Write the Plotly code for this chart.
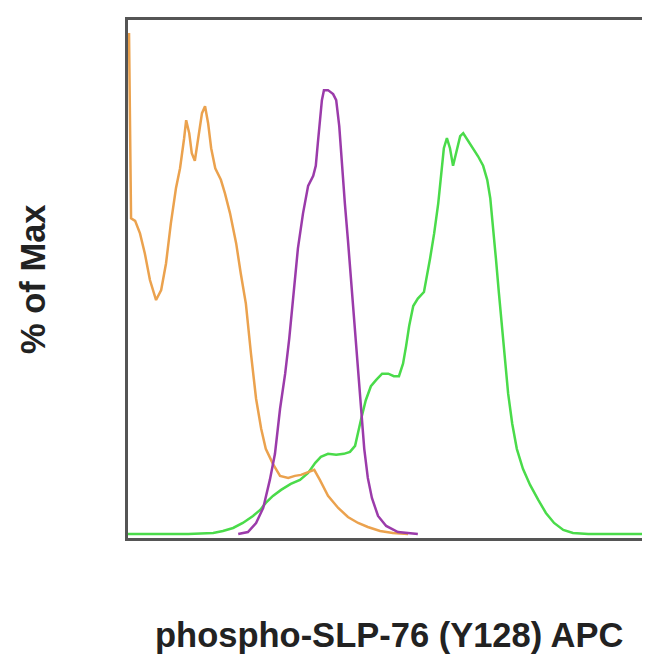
import plotly.graph_objects as go

# Fluorescence channel (0-1023) vs % of Max
orange_x = [2, 4, 6, 14, 23.5, 33, 43, 55, 65, 74.5, 84, 94, 102, 110, 114, 120, 125, 131, 137, 145, 151,
            157, 163, 171, 182, 190, 200, 212, 221, 231, 241, 251, 261, 270, 284, 298, 314, 327, 339, 353,
            365, 376, 392, 412, 431, 451, 470, 494, 519, 549]
orange_y = [100, 81, 63, 62.5, 60, 56, 50.7, 46.7, 48.7, 54, 62, 69, 73, 79, 82.6, 80, 76, 74.5, 79, 84, 85.4,
            82, 77, 73, 70.7, 68, 64, 58, 52, 46, 36, 27, 21, 17, 14, 11.6, 11.2, 11.6, 11.8, 12.4,
            12.8, 10.8, 7.6, 5.2, 3.4, 2.2, 1.4, 0.6, 0.2, 0]

purple_x = [216, 235, 251, 265, 278, 288, 298, 308, 316, 323, 333, 343, 353, 363, 368, 372, 376, 380, 384,
            392, 402, 408, 414, 419, 425, 431, 437, 443, 451, 457, 463, 470, 478, 490, 506, 529, 568]
purple_y = [0, 0.4, 2.2, 5.2, 10.8, 16, 25, 32, 39, 46.5, 57, 64, 69.5, 71.5, 73.5, 78, 82, 86.6, 88.6,
            88.6, 87.8, 86.6, 81.4, 74, 66, 58.7, 51, 43, 32, 24, 17, 11.2, 7.2, 3.6, 1.6, 0.4, 0]

green_x = [0, 118, 167, 186, 206, 225, 245, 259, 270, 284, 300, 319, 337, 353, 367, 378, 392, 408, 423, 435,
           445, 451, 457, 466, 476, 486, 498, 510, 521, 531, 539, 545, 551, 559, 568, 580, 586, 592, 600,
           608, 613, 619, 625, 631, 637, 643, 651, 657, 666, 676, 686, 696, 704, 710, 715, 721, 727, 733,
           739, 745, 753, 762, 774, 788, 804, 819, 835, 853, 872, 902, 1023]
green_y = [0, 0, 0.2, 0.6, 1.2, 2.2, 3.6, 4.8, 6.2, 7.6, 8.8, 10, 10.8, 12.2, 14.2, 15.4, 16, 15.8, 16, 16.4,
           17.6, 20, 23, 26.7, 29.5, 30.7, 32, 32, 31.5, 31.5, 34, 37.5, 41.5, 45.5, 47, 48.3, 51.5, 55, 60,
           66, 71, 77, 79, 77, 73.5, 76, 79.4, 80, 78.6, 77, 75.4, 73.5, 70.7, 67, 62, 55, 48, 41,
           34, 28, 22, 17, 13, 9.8, 6.8, 4.2, 2.2, 0.8, 0.2, 0, 0]

x_title = "phospho-SLP-76 (Y128) APC"
y_title = "% of Max"

fig = go.Figure()
fig.add_trace(go.Scatter(x=green_x, y=green_y, mode="lines",
                         line=dict(color="#4ADB4A", width=2.5), showlegend=False))
fig.add_trace(go.Scatter(x=orange_x, y=orange_y, mode="lines",
                         line=dict(color="#EBA24E", width=2.5), showlegend=False))
fig.add_trace(go.Scatter(x=purple_x, y=purple_y, mode="lines",
                         line=dict(color="#9B3BAA", width=2.5), showlegend=False))

fig.update_layout(
    width=650, height=659,
    margin=dict(l=120, r=8, t=12, b=129, autoexpand=False),
    paper_bgcolor="white", plot_bgcolor="white",
    font=dict(family="Liberation Sans, Arial, sans-serif", color="#222222"),
    annotations=[
        dict(text="<b>" + x_title + "</b>", xref="paper", yref="paper", x=0.5, y=0,
             xanchor="center", yanchor="middle", yshift=-97, showarrow=False,
             font=dict(size=34.5, color="#222222")),
        dict(text="<b>" + y_title + "</b>", xref="paper", yref="paper", x=0, y=0.5,
             xanchor="center", yanchor="middle", xshift=-95, textangle=-90, showarrow=False,
             font=dict(size=34.5, color="#222222")),
    ],
)
fig.update_xaxes(range=[0, 1023], showgrid=False, zeroline=False, showticklabels=False, ticks="",
                 showline=True, mirror=True, linecolor="#555555", linewidth=3, automargin=False)
fig.update_yaxes(range=[-0.8, 102.6], showgrid=False, zeroline=False, showticklabels=False, ticks="",
                 showline=True, mirror=True, linecolor="#555555", linewidth=3, automargin=False)

fig.write_html("out.html")
